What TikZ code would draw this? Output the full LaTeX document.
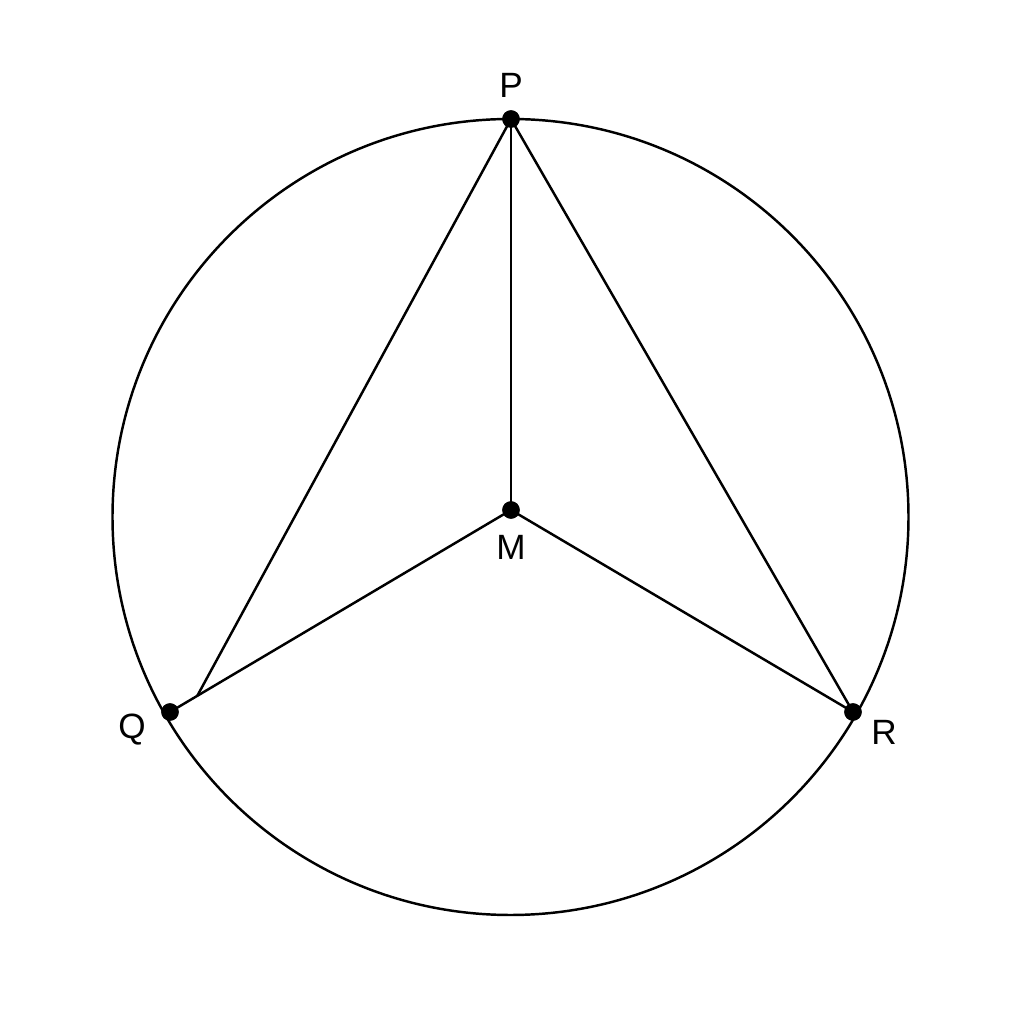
\documentclass[tikz,border=0pt]{standalone}
\usepackage{fontspec}
\setmainfont{Liberation Sans}
\usetikzlibrary{positioning}
\usetikzlibrary{calc}
\tikzstyle{dot}=[circle,fill=black,draw=black,minimum size=1.6mm,inner sep=0pt]
\tikzstyle{seg} = [draw,line width=0.7pt]
\tikzstyle{tag} = [font=\fontsize{10}{12}\selectfont,inner sep=0pt]

\begin{document}
\begin{tikzpicture}
    \useasboundingbox (0,0) rectangle (10.24,10.24);
    % circle around the points
    \node[inner sep=0pt,minimum size=0pt] (O) at (5.105,5.07) {};
    \draw[line width=0.7pt] (O.center) circle (3.98);

    % First we place the points
    \foreach \pos/\name in {{(5.11,9.05)/P}, {(5.11,5.14)/M}, {(1.70,3.12)/Q}, {(8.53,3.12)/R}}
            \node[dot] (\name) at \pos {};
    \coordinate (QM) at ($(Q.center)!0.08!(M.center)$);

    % Then the segments
    \foreach \source/ \dest in {P/M, M/Q, M/R, P/R, P/QM}
        \path[seg] (\source.center) -- (\dest.center);

    % dots on top, and their letters
    \foreach \name/\dx/\dy in {P/0/0.34, M/0/-0.37, Q/-0.38/-0.18, R/0.31/-0.20}
    {
        \node[dot] at (\name.center) {};
        \node[tag] (\name lbl) at ($(\name.center)+(\dx,\dy)$) {\name};
    }
\end{tikzpicture}
\end{document}
